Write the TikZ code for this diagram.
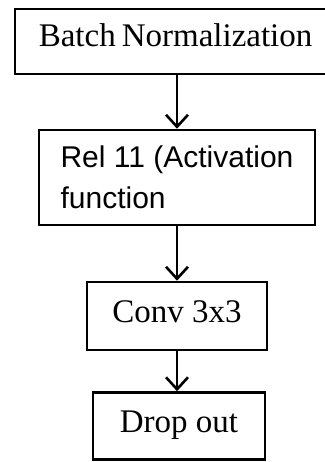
\documentclass[tikz,border=0pt]{standalone}
\usepackage{fontspec}
\setmainfont{Liberation Serif}
\setsansfont{Liberation Sans}
\usetikzlibrary{arrows.meta}

\tikzset{
	layerbox/.style={draw, line width=2.6pt, inner sep=0pt, text height=22pt, text depth=8.5pt, font=\fontsize{33}{38}\selectfont},
	flowarrow/.style={line width=2.6pt, -{Straight Barb[length=12pt,width=22pt,line width=2.6pt]}}
}

\begin{document}
\begin{tikzpicture}[x=1pt,y=1pt,yscale=-1]
			\useasboundingbox (0,0) rectangle (324,462);
			
			% Batch normalization (runs off the right side)
			\node [layerbox, text depth=11pt, text width=380pt, align=left, minimum height=65pt, anchor=west] (bnorm) at (13.5,41.5) {\hspace*{24pt}Batch\hspace{6pt}Normalization};
			% Activation
			\node [draw, line width=2.6pt, minimum width=276pt, minimum height=95pt, align=left, font=\sffamily\fontsize{30}{41}\selectfont] (relu) at (177,177.5) {Rel 11 (Activation\\function};
			% Convolution
			\node [layerbox, minimum width=180pt, minimum height=68pt] (conv) at (177,316) {Conv 3x3};
			% Dropout
			\node [layerbox, minimum width=172pt, minimum height=67pt] (drop) at (179,426) {Drop out};
			
			%Arrows
			\draw [flowarrow] (bnorm.south -| relu.north) -- (relu.north);
			\draw [flowarrow] (relu.south) -- (conv.north);
			\draw [flowarrow] (conv.south) -- (conv.south |- drop.north);
			
		\end{tikzpicture}
\end{document}
